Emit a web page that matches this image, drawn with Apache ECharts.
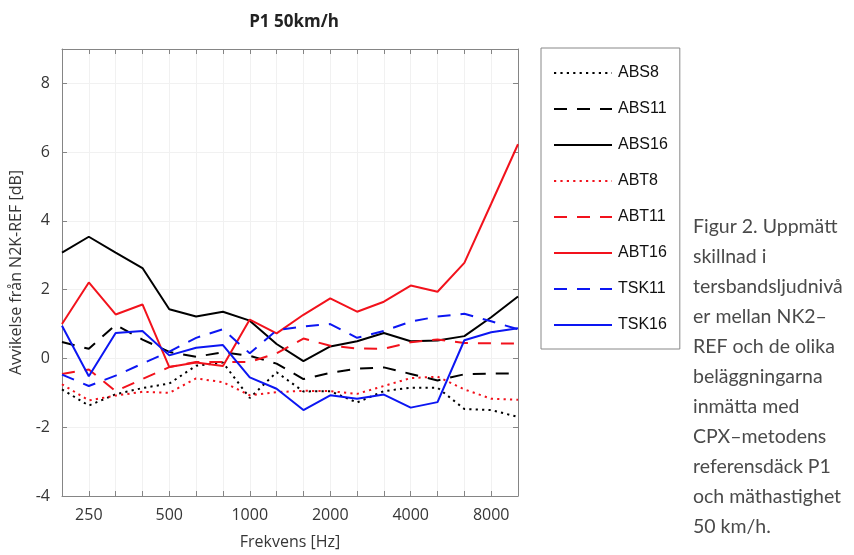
<!DOCTYPE html>
<html>
<head>
<meta charset="utf-8">
<script src="https://cdn.jsdelivr.net/npm/echarts@6.0.0/dist/echarts.min.js"></script>
<style>
html,body{margin:0;padding:0;background:#fff;}
#chart{width:854px;height:555px;}
</style>
</head>
<body>
<div id="chart"></div>
<script>
// Third-octave band centre frequencies (Hz)
const freqs = ['200','250','315','400','500','630','800','1000','1250','1600','2000','2500','3150','4000','5000','6300','8000','10000'];
const xTickLabels = ['250','500','1000','2000','4000','8000'];
const yTicks = [-4, -2, 0, 2, 4, 6, 8];

const ABS8  = [-0.9,-1.37,-1.04,-0.86,-0.73,-0.21,-0.12,-1.15,-0.4,-0.96,-0.95,-1.28,-0.95,-0.85,-0.85,-1.47,-1.5,-1.7];
const ABS11 = [0.48,0.28,0.98,0.55,0.19,0.05,0.18,0.08,-0.15,-0.6,-0.42,-0.3,-0.26,-0.45,-0.64,-0.46,-0.44,-0.44];
const ABS16 = [3.08,3.54,3.08,2.63,1.43,1.22,1.36,1.1,0.42,-0.08,0.35,0.5,0.74,0.5,0.52,0.65,1.2,1.8];
const ABT8  = [-0.75,-1.22,-1.08,-0.97,-1.0,-0.58,-0.69,-1.07,-0.98,-0.94,-0.95,-1.03,-0.8,-0.57,-0.53,-0.9,-1.17,-1.2];
const ABT11 = [-0.45,-0.32,-0.95,-0.6,-0.25,-0.1,-0.1,-0.1,0.15,0.58,0.37,0.29,0.28,0.47,0.55,0.45,0.44,0.43];
const ABT16 = [1.0,2.21,1.28,1.57,-0.25,-0.12,-0.22,1.13,0.73,1.27,1.75,1.36,1.65,2.12,1.94,2.78,4.5,6.23];
const TSK11 = [-0.47,-0.8,-0.5,-0.15,0.2,0.6,0.85,0.15,0.82,0.93,1.0,0.6,0.8,1.07,1.22,1.3,1.08,0.85];
const TSK16 = [0.95,-0.52,0.74,0.8,0.09,0.31,0.39,-0.55,-0.88,-1.5,-1.07,-1.17,-1.05,-1.43,-1.27,0.53,0.76,0.88];

const BLACK = '#000000', RED = '#f2121c', BLUE = '#0c16f2';
const DOT = [2.2, 4.2], DASH = [13, 10];

const seriesDefs = [
  {name:'ABS8',  data:ABS8,  color:BLACK, type:DOT},
  {name:'ABS11', data:ABS11, color:BLACK, type:DASH},
  {name:'ABS16', data:ABS16, color:BLACK, type:'solid'},
  {name:'ABT8',  data:ABT8,  color:RED,   type:DOT},
  {name:'ABT11', data:ABT11, color:RED,   type:DASH},
  {name:'ABT16', data:ABT16, color:RED,   type:'solid'},
  {name:'TSK11', data:TSK11, color:BLUE,  type:DASH},
  {name:'TSK16', data:TSK16, color:BLUE,  type:'solid'}
];

const AX = '#858585';
const TXT = '#363636';
const chart = echarts.init(document.getElementById('chart'), null, {renderer:'canvas'});
const option = {
  animation:false,
  backgroundColor:'#ffffff',
  title:{
    text:'P1 50km/h', left:289, top:9, textAlign:'center',
    textStyle:{fontFamily:'Open Sans', fontWeight:'bold', fontSize:17, color:'#222'}
  },
  legend:{
    orient:'vertical', left:541, top:48,
    padding:[17,12,16,12],
    itemWidth:58, itemHeight:16, itemGap:20,
    borderColor:'#888', borderWidth:1,
    itemStyle:{opacity:0, borderWidth:0},
    textStyle:{fontFamily:'Liberation Sans', fontSize:16, color:'#111', padding:[0,0,0,1]},
    data:seriesDefs.map(s=>s.name)
  },
  grid:{left:62, right:336, top:49, bottom:53, containLabel:false},
  xAxis:[{
    type:'category', data:freqs, boundaryGap:false, position:'bottom',
    name:'Frekvens [Hz]', nameLocation:'middle', nameGap:38,
    nameTextStyle:{fontFamily:'Open Sans', fontSize:16, color:TXT},
    axisLine:{onZero:false, lineStyle:{color:AX}},
    axisTick:{inside:true, length:5, interval:0, lineStyle:{color:AX}},
    axisLabel:{interval:(i,v)=>xTickLabels.includes(v), fontFamily:'Open Sans', fontSize:16, color:TXT, margin:11},
    splitLine:{show:true, interval:0, lineStyle:{color:'#f1f1f1'}}
  },{
    type:'category', data:freqs, boundaryGap:false, position:'top',
    axisLine:{onZero:false, lineStyle:{color:AX}},
    axisTick:{inside:true, length:5, interval:0, lineStyle:{color:AX}},
    axisLabel:{show:false}, splitLine:{show:false}
  }],
  yAxis:[{
    type:'value', min:-4, max:9, interval:2, position:'left',
    name:'Avvikelse från N2K-REF [dB]', nameLocation:'middle', nameGap:36, nameRotate:90,
    nameTextStyle:{fontFamily:'Open Sans', fontSize:16, color:TXT},
    axisLine:{show:true, onZero:false, lineStyle:{color:AX}},
    axisTick:{show:true, inside:true, length:5, lineStyle:{color:AX}},
    axisLabel:{formatter:v=>yTicks.includes(v)?String(v):'', fontFamily:'Open Sans', fontSize:16, color:TXT, margin:12},
    splitLine:{show:true, lineStyle:{color:'#f1f1f1'}}
  },{
    type:'value', min:-4, max:9, interval:2, position:'right',
    axisLine:{show:true, onZero:false, lineStyle:{color:AX}},
    axisTick:{show:true, inside:true, length:5, lineStyle:{color:AX}},
    axisLabel:{show:false}, splitLine:{show:false}
  }],
  series:seriesDefs.map(s=>({
    name:s.name, type:'line', data:s.data, xAxisIndex:0, yAxisIndex:0,
    symbol:'none', smooth:false,
    lineStyle:{color:s.color, width:2, type:s.type},
    itemStyle:{color:s.color}
  })),
  graphic:[{
    type:'text', left:693, top:212,
    style:{
      text:'Figur 2. Uppmätt\nskillnad i\ntersbandsljudnivå\ner mellan NK2–\nREF och de olika\nbeläggningarna\ninmätta med\nCPX–metodens\nreferensdäck P1\noch mäthastighet\n50 km/h.',
      font:'19.5px Lato', lineHeight:30, fill:'#4a4a4a'
    }
  }]
};
chart.setOption(option);
</script>
</body>
</html>
